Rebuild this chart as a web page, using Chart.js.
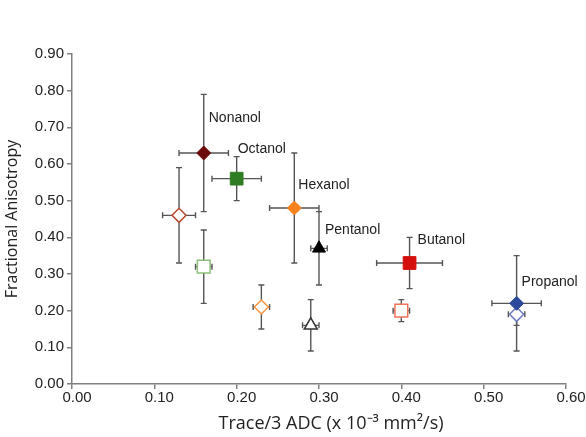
<!DOCTYPE html>
<html>
<head>
<meta charset="utf-8">
<script src="https://cdn.jsdelivr.net/npm/chart.js@4.4.1/dist/chart.umd.min.js"></script>
<style>
  html, body { margin: 0; padding: 0; background: #fff; }
  #wrap { width: 586px; height: 437px; }
</style>
</head>
<body>
<div id="wrap"><canvas id="faChart"></canvas></div>
<script>
/* ============= Data: ============= */
var alcohols = ['Nonanol', 'Octanol', 'Hexanol', 'Pentanol', 'Butanol', 'Propanol'];

// filled markers
var filledADC = [0.16, 0.20, 0.27, 0.30, 0.41, 0.54];
var filledFA = [0.63, 0.56, 0.48, 0.37, 0.33, 0.22];
var filledADCErr = [0.03, 0.03, 0.03, 0.01, 0.04, 0.03];
var filledFAErr = [0.16, 0.06, 0.15, 0.10, 0.07, 0.13];

// open markers
var openADC = [0.13, 0.16, 0.23, 0.29, 0.40, 0.54];
var openFA = [0.46, 0.32, 0.21, 0.16, 0.20, 0.19];
var openADCErr = [0.02, 0.01, 0.01, 0.01, 0.01, 0.01];
var openFAErr = [0.13, 0.10, 0.06, 0.07, 0.03, 0.03];

var xTicks = [0, 0.1, 0.2, 0.3, 0.4, 0.5, 0.6];
var yTicks = [0, 0.1, 0.2, 0.3, 0.4, 0.5, 0.6, 0.7, 0.8, 0.9];

/* ============= Styles: ============= */
var markerShapes = ['rectRot', 'rect', 'rectRot', 'triangle', 'rect', 'rectRot'];
var markerSizes = [7, 9, 7, 7.5, 9, 7];
var filledColors = ['#6b0b0b', '#2f7d22', '#f5821f', '#000000', '#d40d0d', '#2c4a9c'];
var openColors = ['#b8472f', '#8cbf7a', '#f79646', '#333333', '#f0735a', '#6c7cc4'];
var labelOffsets = [[5, -35], [1, -30], [4, -23], [6, -18], [8, -23], [5, -21]];

function toPoints(xs, ys) {
  var pts = [];
  for (var i = 0; i < xs.length; i++) {
    pts.push({ x: xs[i], y: ys[i] });
  }
  return pts;
}

/* ============= Plugins: ============= */
var errorBars = {
  id: 'errorBars',
  beforeDatasetsDraw: function(chart) {
    var ctx = chart.ctx;
    var xs = chart.scales.x, ys = chart.scales.y;
    var sets = [
      [filledADC, filledFA, filledADCErr, filledFAErr],
      [openADC, openFA, openADCErr, openFAErr]
    ];
    var cap = 3;
    ctx.save();
    ctx.strokeStyle = '#555555';
    ctx.lineWidth = 1.4;
    for (var s = 0; s < sets.length; s++) {
      var ax = sets[s][0], ay = sets[s][1], ex = sets[s][2], ey = sets[s][3];
      for (var i = 0; i < ax.length; i++) {
        var px = xs.getPixelForValue(ax[i]);
        var py = ys.getPixelForValue(ay[i]);
        var x1 = xs.getPixelForValue(ax[i] - ex[i]);
        var x2 = xs.getPixelForValue(ax[i] + ex[i]);
        var y1 = ys.getPixelForValue(ay[i] + ey[i]);
        var y2 = ys.getPixelForValue(ay[i] - ey[i]);
        ctx.beginPath();
        ctx.moveTo(x1, py); ctx.lineTo(x2, py);
        ctx.moveTo(x1, py - cap); ctx.lineTo(x1, py + cap);
        ctx.moveTo(x2, py - cap); ctx.lineTo(x2, py + cap);
        ctx.moveTo(px, y1); ctx.lineTo(px, y2);
        ctx.moveTo(px - cap, y1); ctx.lineTo(px + cap, y1);
        ctx.moveTo(px - cap, y2); ctx.lineTo(px + cap, y2);
        ctx.stroke();
      }
    }
    ctx.restore();
  }
};

var pointLabels = {
  id: 'pointLabels',
  afterDatasetsDraw: function(chart) {
    var ctx = chart.ctx;
    ctx.save();
    ctx.font = '14px "Liberation Sans", Arial, sans-serif';
    ctx.fillStyle = '#222222';
    ctx.textAlign = 'left';
    ctx.textBaseline = 'middle';
    for (var i = 0; i < alcohols.length; i++) {
      var px = chart.scales.x.getPixelForValue(filledADC[i]);
      var py = chart.scales.y.getPixelForValue(filledFA[i]);
      ctx.fillText(alcohols[i], px + labelOffsets[i][0], py + labelOffsets[i][1]);
    }
    ctx.restore();
  }
};

// x title sits a little right of the plot centre in the original
var xTitle = {
  id: 'xTitle',
  afterDraw: function(chart) {
    var ctx = chart.ctx;
    var a = chart.chartArea;
    ctx.save();
    ctx.font = '18px "Open Sans", sans-serif';
    ctx.fillStyle = '#222222';
    ctx.textAlign = 'center';
    ctx.textBaseline = 'middle';
    ctx.fillText('Trace/3 ADC (x 10\u207B\u00B3 mm\u00B2/s)', (a.left + a.right) / 2 + 12, 424);
    ctx.restore();
  }
};

/* ============= Chart: ============= */
var tickFont = { family: '"Liberation Sans", Arial, sans-serif', size: 15 };
var titleFont = { family: '"Open Sans", sans-serif', size: 16 };

var ctx = document.getElementById('faChart').getContext('2d');
var faChart = new Chart(ctx, {
  type: 'scatter',
  data: {
    datasets: [
      {
        label: 'open',
        data: toPoints(openADC, openFA),
        pointStyle: markerShapes,
        pointRadius: markerSizes,
        pointBackgroundColor: '#ffffff',
        pointBorderColor: openColors,
        pointBorderWidth: 1.5,
        order: 2
      },
      {
        label: 'filled',
        data: toPoints(filledADC, filledFA),
        pointStyle: markerShapes,
        pointRadius: markerSizes,
        pointBackgroundColor: filledColors,
        pointBorderColor: filledColors,
        pointBorderWidth: 1,
        order: 1
      }
    ]
  },
  options: {
    responsive: true,
    maintainAspectRatio: false,
    animation: false,
    layout: { padding: { top: 54, right: 20, left: 0, bottom: 0 } },
    plugins: {
      legend: { display: false },
      tooltip: { enabled: false }
    },
    scales: {
      x: {
        type: 'linear',
        min: 0,
        max: 0.6,
        afterBuildTicks: function(scale) {
          scale.ticks = xTicks.map(function(v) { return { value: v }; });
        },
        afterFit: function(scale) { scale.height = 53; },
        ticks: {
          font: tickFont,
          color: '#222222',
          padding: 0,
          labelOffset: 5,
          maxRotation: 0,
          callback: function(v) { return Number(v).toFixed(2); }
        },
        grid: { drawOnChartArea: false, drawTicks: true, tickLength: 5, color: '#808080', lineWidth: 1.5 },
        border: { color: '#808080', width: 1.5 },
        title: { display: false }
      },
      y: {
        type: 'linear',
        min: 0,
        max: 0.9,
        afterBuildTicks: function(scale) {
          scale.ticks = yTicks.map(function(v) { return { value: v }; });
        },
        afterFit: function(scale) { scale.width = 72; },
        ticks: {
          font: tickFont,
          color: '#222222',
          padding: 3,
          callback: function(v) { return Number(v).toFixed(2); }
        },
        grid: { drawOnChartArea: false, drawTicks: true, tickLength: 5, color: '#808080', lineWidth: 1.5 },
        border: { color: '#808080', width: 1.5 },
        title: { display: true, text: 'Fractional Anisotropy', font: titleFont, color: '#222222', padding: { top: 3, bottom: 0 } }
      }
    }
  },
  plugins: [errorBars, pointLabels, xTitle]
});
</script>
</body>
</html>
